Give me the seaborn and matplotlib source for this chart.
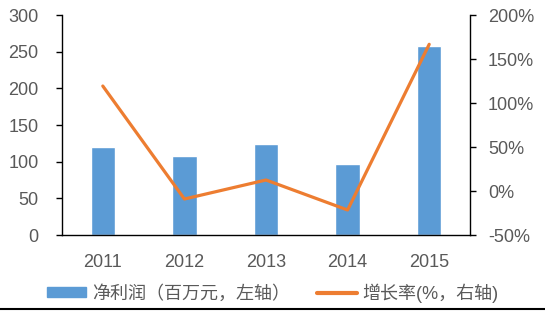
import matplotlib
matplotlib.use("Agg")
import matplotlib.pyplot as plt
import seaborn as sns
import numpy as np
from matplotlib.ticker import FuncFormatter
from matplotlib.lines import Line2D

years = ["2011", "2012", "2013", "2014", "2015"]
net_profit = [119.5, 108.2, 124.1, 96.8, 258.2]
growth = [119.3, -9.1, 12.5, -21.6, 166.7]
bar_label = "净利润（百万元，左轴）"
line_label = "增长率(%，右轴)"

sns.set_theme(style="white")
plt.rcParams['font.family'] = ['Liberation Sans', 'Noto Sans CJK SC', 'DejaVu Sans']

BLUE = "#5B9BD5"
ORANGE = "#ED7D31"
GRAY = "#595959"

fig = plt.figure(figsize=(5.45, 3.11), dpi=100)
ax = fig.add_axes([62/545, 1-235/311, (470-62)/545, (235-15)/311])

sns.barplot(x=years, y=net_profit, color=BLUE, width=0.3, ax=ax, saturation=1)
ax2 = ax.twinx()
sns.lineplot(x=np.arange(len(years)), y=growth, color=ORANGE, linewidth=2.3,
             ax=ax2, legend=False)

ax.set_xlim(-0.5, len(years) - 0.5)
ax.set_ylim(0, 300)
ax.set_yticks(np.arange(0, 301, 50))
ax2.set_ylim(-50, 200)
ax2.set_yticks(np.arange(-50, 201, 50))
ax2.yaxis.set_major_formatter(FuncFormatter(lambda v, p: f"{v:.0f}%"))
ax.set_xlabel("")
ax.set_ylabel("")
ax2.set_ylabel("")

for a in (ax, ax2):
    for s in a.spines.values():
        s.set_color("black")
        s.set_linewidth(1.0)
    a.spines['top'].set_visible(False)
ax.spines['right'].set_visible(False)
ax2.spines['left'].set_visible(False)
ax2.spines['bottom'].set_visible(False)

ax.tick_params(axis='y', which='both', left=True, direction='out', length=4,
               width=1, color='black', labelsize=13, labelcolor=GRAY, pad=13)
ax.tick_params(axis='x', bottom=False, labelsize=13, labelcolor=GRAY, pad=8)
ax2.tick_params(axis='y', right=True, direction='out', length=4, width=1,
                color='black', labelsize=13, labelcolor=GRAY, pad=9)
ax.grid(False)
ax2.grid(False)

handles = [plt.Rectangle((0, 0), 1, 1, color=BLUE),
           Line2D([0], [0], color=ORANGE, linewidth=3)]
leg = fig.legend(handles, [bar_label, line_label], loc='center',
                 bbox_to_anchor=(0.5, 1-293/311), ncol=2, frameon=False,
                 fontsize=13, handlelength=2.2, handleheight=0.45,
                 handletextpad=0.3, columnspacing=1.5, borderpad=0, borderaxespad=0)
for t in leg.get_texts():
    t.set_color(GRAY)

fig.add_artist(Line2D([0, 1], [1-308.5/311, 1-308.5/311], color='black',
                      linewidth=1.5, transform=fig.transFigure))

fig.savefig("out.png", dpi=100)
